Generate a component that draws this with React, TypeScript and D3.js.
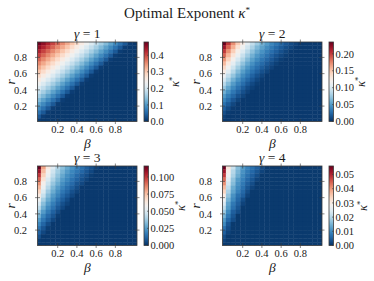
import React from 'react';
import * as d3 from 'd3';

// grid of the heatmaps (cell centres)
const betaValues = [0, 0.05, 0.1, 0.15, 0.2, 0.25, 0.3, 0.35, 0.4, 0.45, 0.5, 0.55, 0.6, 0.65, 0.7, 0.75, 0.8, 0.85, 0.9, 0.95, 1.0];
const rValues = [0.975, 0.925, 0.875, 0.825, 0.775, 0.725, 0.675, 0.625, 0.575, 0.525, 0.475, 0.425, 0.375, 0.325, 0.275, 0.225, 0.175, 0.125, 0.075, 0.025];

const gammas = [1, 2, 3, 4];

// optimal exponent kappa*, in units of 1e-3, one row per r (top row first)
const kappaGamma1 = [
  [478, 453, 429, 404, 380, 355, 331, 306, 282, 257, 233, 208, 184, 159, 135, 110, 86, 61, 37, 12, 8],
  [453, 429, 404, 380, 355, 331, 306, 282, 257, 233, 208, 184, 159, 135, 110, 86, 61, 37, 12, 8, 8],
  [429, 404, 380, 355, 331, 306, 282, 257, 233, 208, 184, 159, 135, 110, 86, 61, 37, 12, 8, 8, 8],
  [404, 380, 355, 331, 306, 282, 257, 233, 208, 184, 159, 135, 110, 86, 61, 37, 12, 8, 8, 8, 8],
  [380, 355, 331, 306, 282, 257, 233, 208, 184, 159, 135, 110, 86, 61, 37, 12, 8, 8, 8, 8, 8],
  [355, 331, 306, 282, 257, 233, 208, 184, 159, 135, 110, 86, 61, 37, 12, 8, 8, 8, 8, 8, 8],
  [331, 306, 282, 257, 233, 208, 184, 159, 135, 110, 86, 61, 37, 12, 8, 8, 8, 8, 8, 8, 8],
  [306, 282, 257, 233, 208, 184, 159, 135, 110, 86, 61, 37, 12, 8, 8, 8, 8, 8, 8, 8, 8],
  [282, 257, 233, 208, 184, 159, 135, 110, 86, 61, 37, 12, 8, 8, 8, 8, 8, 8, 8, 8, 8],
  [257, 233, 208, 184, 159, 135, 110, 86, 61, 37, 12, 8, 8, 8, 8, 8, 8, 8, 8, 8, 8],
  [233, 208, 184, 159, 135, 110, 86, 61, 37, 12, 8, 8, 8, 8, 8, 8, 8, 8, 8, 8, 8],
  [208, 184, 159, 135, 110, 86, 61, 37, 12, 8, 8, 8, 8, 8, 8, 8, 8, 8, 8, 8, 8],
  [184, 159, 135, 110, 86, 61, 37, 12, 8, 8, 8, 8, 8, 8, 8, 8, 8, 8, 8, 8, 8],
  [159, 135, 110, 86, 61, 37, 12, 8, 8, 8, 8, 8, 8, 8, 8, 8, 8, 8, 8, 8, 8],
  [135, 110, 86, 61, 37, 12, 8, 8, 8, 8, 8, 8, 8, 8, 8, 8, 8, 8, 8, 8, 8],
  [110, 86, 61, 37, 12, 8, 8, 8, 8, 8, 8, 8, 8, 8, 8, 8, 8, 8, 8, 8, 8],
  [86, 61, 37, 12, 8, 8, 8, 8, 8, 8, 8, 8, 8, 8, 8, 8, 8, 8, 8, 8, 8],
  [61, 37, 12, 8, 8, 8, 8, 8, 8, 8, 8, 8, 8, 8, 8, 8, 8, 8, 8, 8, 8],
  [37, 12, 8, 8, 8, 8, 8, 8, 8, 8, 8, 8, 8, 8, 8, 8, 8, 8, 8, 8, 8],
  [12, 8, 8, 8, 8, 8, 8, 8, 8, 8, 8, 8, 8, 8, 8, 8, 8, 8, 8, 8, 8],
];

const kappaGamma2 = [
  [235, 201, 172, 147, 125, 106, 89, 75, 61, 50, 40, 32, 25, 17, 12, 8, 4, 4, 4, 4, 4],
  [218, 186, 159, 134, 114, 96, 80, 65, 54, 43, 34, 26, 19, 13, 9, 5, 4, 4, 4, 4, 4],
  [202, 171, 145, 122, 103, 86, 70, 57, 46, 36, 28, 21, 14, 9, 5, 4, 4, 4, 4, 4, 4],
  [186, 157, 132, 111, 92, 76, 61, 49, 39, 30, 22, 15, 10, 6, 4, 4, 4, 4, 4, 4, 4],
  [170, 143, 119, 99, 82, 66, 53, 42, 32, 24, 17, 11, 6, 4, 4, 4, 4, 4, 4, 4, 4],
  [155, 129, 107, 88, 71, 57, 45, 34, 26, 18, 12, 7, 4, 4, 4, 4, 4, 4, 4, 4, 4],
  [140, 116, 95, 77, 61, 48, 37, 28, 20, 13, 8, 4, 4, 4, 4, 4, 4, 4, 4, 4, 4],
  [126, 104, 84, 66, 52, 40, 30, 22, 14, 9, 4, 4, 4, 4, 4, 4, 4, 4, 4, 4, 4],
  [112, 90, 72, 57, 43, 33, 23, 15, 9, 4, 4, 4, 4, 4, 4, 4, 4, 4, 4, 4, 4],
  [99, 79, 61, 47, 35, 25, 17, 10, 5, 4, 4, 4, 4, 4, 4, 4, 4, 4, 4, 4, 4],
  [86, 67, 51, 38, 28, 18, 11, 6, 4, 4, 4, 4, 4, 4, 4, 4, 4, 4, 4, 4, 4],
  [73, 56, 42, 30, 20, 12, 7, 4, 4, 4, 4, 4, 4, 4, 4, 4, 4, 4, 4, 4, 4],
  [61, 46, 33, 23, 14, 8, 4, 4, 4, 4, 4, 4, 4, 4, 4, 4, 4, 4, 4, 4, 4],
  [50, 36, 25, 15, 9, 4, 4, 4, 4, 4, 4, 4, 4, 4, 4, 4, 4, 4, 4, 4, 4],
  [40, 28, 17, 9, 4, 4, 4, 4, 4, 4, 4, 4, 4, 4, 4, 4, 4, 4, 4, 4, 4],
  [30, 19, 10, 4, 4, 4, 4, 4, 4, 4, 4, 4, 4, 4, 4, 4, 4, 4, 4, 4, 4],
  [21, 12, 5, 4, 4, 4, 4, 4, 4, 4, 4, 4, 4, 4, 4, 4, 4, 4, 4, 4, 4],
  [13, 6, 4, 4, 4, 4, 4, 4, 4, 4, 4, 4, 4, 4, 4, 4, 4, 4, 4, 4, 4],
  [7, 4, 4, 4, 4, 4, 4, 4, 4, 4, 4, 4, 4, 4, 4, 4, 4, 4, 4, 4, 4],
  [4, 4, 4, 4, 4, 4, 4, 4, 4, 4, 4, 4, 4, 4, 4, 4, 4, 4, 4, 4, 4],
];

const kappaGamma3 = [
  [116, 81, 63, 51, 41, 34, 28, 23, 18, 14, 10, 7, 4, 2, 2, 2, 2, 2, 2, 2, 2],
  [108, 76, 59, 47, 38, 31, 25, 20, 16, 12, 8, 5, 2, 2, 2, 2, 2, 2, 2, 2, 2],
  [100, 71, 55, 44, 35, 28, 22, 18, 13, 9, 6, 3, 2, 2, 2, 2, 2, 2, 2, 2, 2],
  [92, 66, 50, 40, 32, 25, 20, 15, 11, 7, 4, 2, 2, 2, 2, 2, 2, 2, 2, 2, 2],
  [84, 60, 46, 36, 29, 22, 17, 13, 8, 5, 2, 2, 2, 2, 2, 2, 2, 2, 2, 2, 2],
  [77, 55, 42, 32, 25, 19, 14, 10, 6, 2, 2, 2, 2, 2, 2, 2, 2, 2, 2, 2, 2],
  [70, 50, 37, 29, 22, 16, 12, 7, 4, 2, 2, 2, 2, 2, 2, 2, 2, 2, 2, 2, 2],
  [63, 45, 33, 25, 19, 13, 9, 5, 2, 2, 2, 2, 2, 2, 2, 2, 2, 2, 2, 2, 2],
  [56, 39, 29, 22, 15, 10, 6, 2, 2, 2, 2, 2, 2, 2, 2, 2, 2, 2, 2, 2, 2],
  [49, 34, 25, 18, 12, 7, 4, 2, 2, 2, 2, 2, 2, 2, 2, 2, 2, 2, 2, 2, 2],
  [43, 30, 21, 15, 9, 5, 2, 2, 2, 2, 2, 2, 2, 2, 2, 2, 2, 2, 2, 2, 2],
  [36, 25, 17, 11, 6, 2, 2, 2, 2, 2, 2, 2, 2, 2, 2, 2, 2, 2, 2, 2, 2],
  [31, 20, 13, 8, 3, 2, 2, 2, 2, 2, 2, 2, 2, 2, 2, 2, 2, 2, 2, 2, 2],
  [25, 16, 10, 5, 2, 2, 2, 2, 2, 2, 2, 2, 2, 2, 2, 2, 2, 2, 2, 2, 2],
  [20, 12, 6, 2, 2, 2, 2, 2, 2, 2, 2, 2, 2, 2, 2, 2, 2, 2, 2, 2, 2],
  [15, 8, 3, 2, 2, 2, 2, 2, 2, 2, 2, 2, 2, 2, 2, 2, 2, 2, 2, 2, 2],
  [11, 5, 2, 2, 2, 2, 2, 2, 2, 2, 2, 2, 2, 2, 2, 2, 2, 2, 2, 2, 2],
  [7, 2, 2, 2, 2, 2, 2, 2, 2, 2, 2, 2, 2, 2, 2, 2, 2, 2, 2, 2, 2],
  [3, 2, 2, 2, 2, 2, 2, 2, 2, 2, 2, 2, 2, 2, 2, 2, 2, 2, 2, 2, 2],
  [2, 2, 2, 2, 2, 2, 2, 2, 2, 2, 2, 2, 2, 2, 2, 2, 2, 2, 2, 2, 2],
];

const kappaGamma4 = [
  [56, 31, 22, 16, 12, 9, 7, 5, 3, 1, 1, 1, 1, 1, 1, 1, 1, 1, 1, 1, 1],
  [52, 29, 20, 15, 11, 8, 6, 4, 2, 1, 1, 1, 1, 1, 1, 1, 1, 1, 1, 1, 1],
  [48, 27, 19, 14, 10, 7, 5, 3, 1, 1, 1, 1, 1, 1, 1, 1, 1, 1, 1, 1, 1],
  [44, 25, 17, 12, 9, 6, 4, 2, 1, 1, 1, 1, 1, 1, 1, 1, 1, 1, 1, 1, 1],
  [41, 23, 16, 11, 8, 5, 3, 1, 1, 1, 1, 1, 1, 1, 1, 1, 1, 1, 1, 1, 1],
  [37, 21, 14, 10, 7, 4, 2, 1, 1, 1, 1, 1, 1, 1, 1, 1, 1, 1, 1, 1, 1],
  [34, 19, 13, 9, 6, 3, 1, 1, 1, 1, 1, 1, 1, 1, 1, 1, 1, 1, 1, 1, 1],
  [30, 17, 11, 7, 5, 2, 1, 1, 1, 1, 1, 1, 1, 1, 1, 1, 1, 1, 1, 1, 1],
  [27, 15, 10, 6, 3, 1, 1, 1, 1, 1, 1, 1, 1, 1, 1, 1, 1, 1, 1, 1, 1],
  [24, 13, 8, 5, 2, 1, 1, 1, 1, 1, 1, 1, 1, 1, 1, 1, 1, 1, 1, 1, 1],
  [21, 12, 7, 4, 1, 1, 1, 1, 1, 1, 1, 1, 1, 1, 1, 1, 1, 1, 1, 1, 1],
  [18, 10, 5, 3, 1, 1, 1, 1, 1, 1, 1, 1, 1, 1, 1, 1, 1, 1, 1, 1, 1],
  [15, 8, 4, 1, 1, 1, 1, 1, 1, 1, 1, 1, 1, 1, 1, 1, 1, 1, 1, 1, 1],
  [12, 6, 3, 1, 1, 1, 1, 1, 1, 1, 1, 1, 1, 1, 1, 1, 1, 1, 1, 1, 1],
  [10, 4, 1, 1, 1, 1, 1, 1, 1, 1, 1, 1, 1, 1, 1, 1, 1, 1, 1, 1, 1],
  [7, 3, 1, 1, 1, 1, 1, 1, 1, 1, 1, 1, 1, 1, 1, 1, 1, 1, 1, 1, 1],
  [5, 2, 1, 1, 1, 1, 1, 1, 1, 1, 1, 1, 1, 1, 1, 1, 1, 1, 1, 1, 1],
  [3, 1, 1, 1, 1, 1, 1, 1, 1, 1, 1, 1, 1, 1, 1, 1, 1, 1, 1, 1, 1],
  [2, 1, 1, 1, 1, 1, 1, 1, 1, 1, 1, 1, 1, 1, 1, 1, 1, 1, 1, 1, 1],
  [1, 1, 1, 1, 1, 1, 1, 1, 1, 1, 1, 1, 1, 1, 1, 1, 1, 1, 1, 1, 1],
];

const kappaGrids = [kappaGamma1, kappaGamma2, kappaGamma3, kappaGamma4];

// colour scale upper limits and colorbar ticks
const kappaMax = [0.48, 0.235, 0.116, 0.056];
const cbTicks = [
  [0, 0.1, 0.2, 0.3, 0.4],
  [0, 0.05, 0.1, 0.15, 0.2],
  [0, 0.025, 0.05, 0.075, 0.1],
  [0, 0.01, 0.02, 0.03, 0.04, 0.05],
];
const cbTickLabels = [
  ['0.0', '0.1', '0.2', '0.3', '0.4'],
  ['0.00', '0.05', '0.10', '0.15', '0.20'],
  ['0.000', '0.025', '0.050', '0.075', '0.100'],
  ['0.00', '0.01', '0.02', '0.03', '0.04', '0.05'],
];
const axisTicks = [0.2, 0.4, 0.6, 0.8];
const axisTickLabels = ['0.2', '0.4', '0.6', '0.8'];

const W = 374;
const H = 281;
const panelLeft = [37.5, 222.5, 37.5, 222.5];
const panelTop = [42, 42, 166, 166];
const PW = 99.5;
const PH = 79.5;
const cbGap = 7;
const cbW = 4.5;
const cbLabelOffset = [30, 31.5, 36, 33.5];

const FONT = '"Liberation Serif", "Times New Roman", serif';
const INK = '#1a1a1a';
const FRAME = '#3a3a3a';

const Panel: React.FC<{ idx: number }> = ({ idx }) => {
  const x0 = panelLeft[idx];
  const y0 = panelTop[idx];
  const grid = kappaGrids[idx];
  const vmax = kappaMax[idx];

  const x = d3.scaleLinear().domain([-0.01, 1.025]).range([x0, x0 + PW]);
  const y = d3.scaleLinear().domain([0.01, 0.99]).range([y0 + PH, y0]);
  const color = (v: number) => d3.interpolateRdBu(1 - Math.max(0, Math.min(1, v / vmax)));

  const halfB = (betaValues[1] - betaValues[0]) / 2;
  const halfR = (rValues[0] - rValues[1]) / 2;

  const cbX = x0 + PW + cbGap;
  const cbY = d3.scaleLinear().domain([0, vmax]).range([y0 + PH, y0]);
  const gradId = `cbgrad-${idx}`;
  const clipId = `clip-${idx}`;
  const stops = d3.range(0, 1.0001, 0.05);
  const tl = 2.5;

  return (
    <g>
      <defs>
        <clipPath id={clipId}>
          <rect x={x0} y={y0} width={PW} height={PH} />
        </clipPath>
        <linearGradient id={gradId} x1="0" y1="1" x2="0" y2="0">
          {stops.map((t) => (
            <stop key={t} offset={`${t * 100}%`} stopColor={d3.interpolateRdBu(1 - t)} />
          ))}
        </linearGradient>
      </defs>

      {/* subplot title */}
      <text x={x0 + PW / 2} y={y0 - 4} textAnchor="middle" fontFamily={FONT} fontSize={13.5} fill={INK}>
        <tspan fontStyle="italic">γ</tspan>
        <tspan> = {gammas[idx]}</tspan>
      </text>

      {/* heatmap cells */}
      <g clipPath={`url(#${clipId})`}>
        {grid.map((row, i) =>
          row.map((v, j) => {
            const b = betaValues[j];
            const r = rValues[i];
            const xa = x(b - halfB);
            const xb = x(b + halfB);
            const ya = y(r + halfR);
            const yb = y(r - halfR);
            return (
              <rect
                key={`${i}-${j}`}
                x={xa}
                y={ya}
                width={xb - xa + 0.4}
                height={yb - ya + 0.4}
                fill={color(v / 1000)}
              />
            );
          })
        )}
      </g>

      {/* frame and ticks */}
      <rect x={x0} y={y0} width={PW} height={PH} fill="none" stroke={FRAME} strokeWidth={0.8} />
      {axisTicks.map((t, k) => (
        <g key={`xt-${k}`}>
          <line x1={x(t)} x2={x(t)} y1={y0 + PH - tl} y2={y0 + PH + tl} stroke={FRAME} strokeWidth={0.6} />
          <line x1={x(t)} x2={x(t)} y1={y0 - tl} y2={y0 + tl} stroke={FRAME} strokeWidth={0.6} />
          <text x={x(t)} y={y0 + PH + 11.5} textAnchor="middle" fontFamily={FONT} fontSize={10.5} fill={INK}>
            {axisTickLabels[k]}
          </text>
        </g>
      ))}
      {axisTicks.map((t, k) => (
        <g key={`yt-${k}`}>
          <line x1={x0 - tl} x2={x0 + tl} y1={y(t)} y2={y(t)} stroke={FRAME} strokeWidth={0.6} />
          <line x1={x0 + PW - tl} x2={x0 + PW + tl} y1={y(t)} y2={y(t)} stroke={FRAME} strokeWidth={0.6} />
          <text x={x0 - 10.5} y={y(t)} dy="0.35em" textAnchor="end" fontFamily={FONT} fontSize={10.5} fill={INK}>
            {axisTickLabels[k]}
          </text>
        </g>
      ))}

      {/* axis labels */}
      <text x={x0 + PW / 2} y={y0 + PH + 26} textAnchor="middle" fontFamily={FONT} fontStyle="italic" fontSize={13.5} fill={INK}>
        β
      </text>
      <text
        transform={`translate(${x0 - 22.5},${y0 + PH / 2}) rotate(-90)`}
        textAnchor="middle"
        fontFamily={FONT}
        fontStyle="italic"
        fontSize={13.5}
        fill={INK}
      >
        r
      </text>

      {/* colorbar */}
      <rect x={cbX} y={y0} width={cbW} height={PH} fill={`url(#${gradId})`} stroke={FRAME} strokeWidth={0.8} />
      {cbTicks[idx].map((t, k) => (
        <g key={`cb-${k}`}>
          <line x1={cbX + cbW - 1.5} x2={cbX + cbW} y1={cbY(t)} y2={cbY(t)} stroke={FRAME} strokeWidth={0.6} />
          <text x={cbX + cbW + 2} y={cbY(t)} dy="0.35em" fontFamily={FONT} fontSize={10.5} fill={INK}>
            {cbTickLabels[idx][k]}
          </text>
        </g>
      ))}
      <text
        transform={`translate(${cbX + cbW + cbLabelOffset[idx]},${y0 + PH / 2}) rotate(-90)`}
        textAnchor="middle"
        fontFamily={FONT}
        fontSize={12.5}
        fill={INK}
      >
        <tspan fontStyle="italic">κ</tspan>
        <tspan fontSize={8.5} dy={-4}>*</tspan>
      </text>
    </g>
  );
};

export default function App() {
  return (
    <svg
      width={W}
      height={H}
      viewBox={`0 0 ${W} ${H}`}
      style={{ position: 'absolute', left: 0, top: 0, background: '#fff' }}
    >
      <rect width={W} height={H} fill="#fff" />
      <text x={W / 2} y={17.5} textAnchor="middle" fontFamily={FONT} fontSize={15} fill={INK}>
        Optimal Exponent <tspan fontStyle="italic">κ</tspan>
        <tspan fontSize={9} dy={-5}>*</tspan>
      </text>
      {gammas.map((g, i) => (
        <Panel key={g} idx={i} />
      ))}
    </svg>
  );
}
